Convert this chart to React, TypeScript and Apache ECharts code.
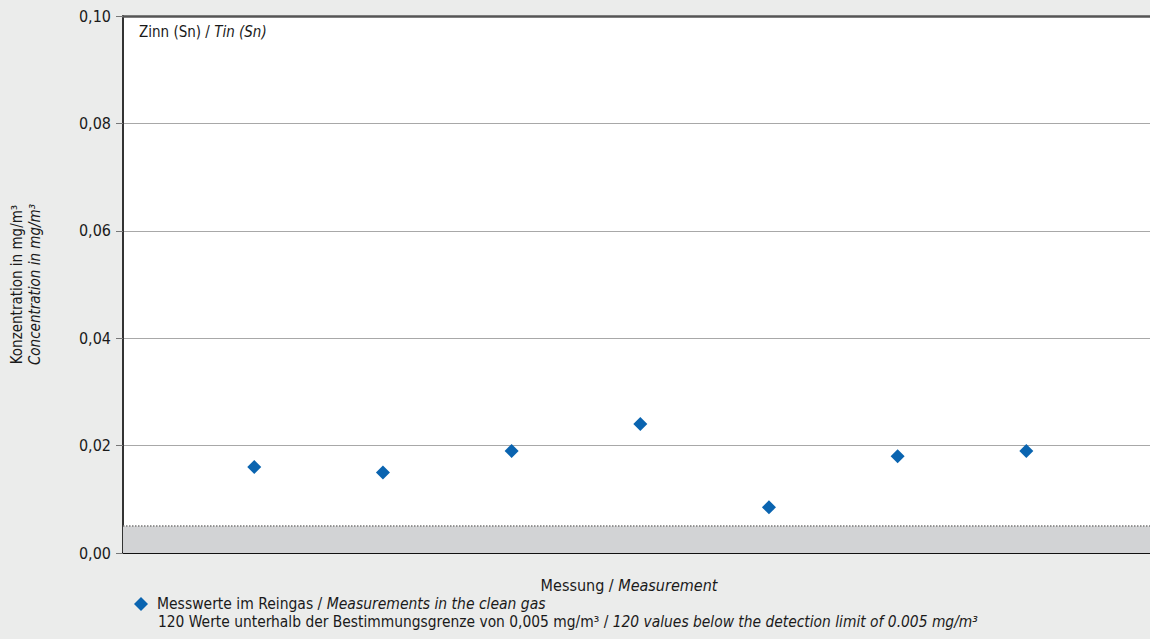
import React, { useEffect, useRef } from "react";
import * as echarts from "echarts";

const measurementIndex = [1, 2, 3, 4, 5, 6, 7];
const concentration = [0.016, 0.015, 0.019, 0.024, 0.0085, 0.018, 0.019];
const yTicks = [0, 0.02, 0.04, 0.06, 0.08, 0.1];
const detectionLimit = 0.005;

const FONT = "'Liberation Sans Narrow', 'DejaVu Sans Condensed', 'Roboto', sans-serif";

export default function App() {
  const ref = useRef<HTMLDivElement>(null);
  useEffect(() => {
    const chart = echarts.init(ref.current!, null, { renderer: "svg" });
    const data = measurementIndex.map((x, i) => [x, concentration[i]]);
    chart.setOption({
      animation: false,
      backgroundColor: "#ebeceb",
      textStyle: { fontFamily: FONT, color: "#1a1a1a" },
      grid: {
        left: 123,
        top: 16,
        width: 1032,
        height: 537,
        show: true,
        backgroundColor: "#ffffff",
        borderWidth: 0,
        containLabel: false,
        outerBoundsMode: "none",
      },
      xAxis: [
        {
          type: "value",
          min: -0.02,
          max: 8,
          position: "bottom",
          name: "Messung / {i|Measurement}",
          nameLocation: "middle",
          nameGap: 24,
          nameTextStyle: {
            fontFamily: FONT,
            fontSize: 16,
            color: "#1a1a1a",
            padding: [0, 20, 0, 0],
            rich: { i: { fontStyle: "italic", fontFamily: FONT, fontSize: 16, color: "#1a1a1a" } },
          },
          axisLine: { show: true, onZero: false, lineStyle: { color: "#111", width: 2 } },
          axisTick: { show: false },
          axisLabel: { show: false },
          splitLine: { show: false },
        },
        {
          type: "value",
          min: -0.02,
          max: 8,
          position: "top",
          axisLine: { show: true, onZero: false, lineStyle: { color: "#555", width: 2.5 } },
          axisTick: { show: false },
          axisLabel: { show: false },
          splitLine: { show: false },
        },
      ],
      yAxis: {
        type: "value",
        min: yTicks[0],
        max: yTicks[yTicks.length - 1],
        interval: 0.02,
        name: "Konzentration in mg/m³\n{i|Concentration in mg/m³}",
        nameLocation: "middle",
        nameRotate: 90,
        nameGap: 79,
        nameTextStyle: {
          fontFamily: FONT,
          fontSize: 15,
          lineHeight: 18,
          color: "#1a1a1a",
          align: "center",
          rich: { i: { fontStyle: "italic", fontFamily: FONT, fontSize: 15, lineHeight: 18, color: "#1a1a1a" } },
        },
        axisLine: { show: true, onZero: false, lineStyle: { color: "#333", width: 2 } },
        axisTick: { show: true, length: 7, lineStyle: { color: "#777", width: 1 } },
        axisLabel: {
          fontFamily: FONT,
          fontSize: 16,
          color: "#1a1a1a",
          margin: 12,
          formatter: (v: number) => v.toFixed(2).replace(".", ","),
        },
        splitLine: { show: true, lineStyle: { color: "#a8a8a8", width: 1 } },
      },
      legend: {
        left: 134,
        top: 596,
        itemWidth: 14,
        itemHeight: 14,
        itemGap: 6,
        padding: 0,
        data: [{ name: "Messwerte", icon: "diamond" }],
        formatter: () => "Messwerte im Reingas / {i|Measurements in the clean gas}",
        textStyle: {
          fontFamily: FONT,
          fontSize: 15.5,
          color: "#1a1a1a",
          padding: [0, 0, 0, 4],
          rich: { i: { fontStyle: "italic", fontFamily: FONT, fontSize: 15.5, color: "#1a1a1a" } },
        },
      },
      graphic: [
        {
          type: "text",
          left: 139,
          top: 24,
          style: {
            text: "Zinn (Sn) / {i|Tin (Sn)}",
            font: `15px ${FONT}`,
            fill: "#1a1a1a",
            rich: { i: { fontStyle: "italic", fontFamily: FONT, fontSize: 15, fill: "#1a1a1a" } },
          },
        },
        {
          type: "text",
          left: 158,
          top: 614,
          style: {
            text: "120 Werte unterhalb der Bestimmungsgrenze von 0,005 mg/m³ / {i|120 values below the detection limit of 0.005 mg/m³}",
            font: `15.4px ${FONT}`,
            fill: "#1a1a1a",
            rich: { i: { fontStyle: "italic", fontFamily: FONT, fontSize: 15.4, fill: "#1a1a1a" } },
          },
        },
      ],
      series: [
        {
          name: "Messwerte",
          type: "scatter",
          symbol: "diamond",
          symbolSize: 14,
          itemStyle: { color: "#0a64b0", opacity: 1 },
          data,
          z: 5,
          markArea: {
            silent: true,
            itemStyle: { color: "#d2d3d5" },
            data: [[{ yAxis: 0 }, { yAxis: detectionLimit }]],
          },
          markLine: {
            silent: true,
            symbol: "none",
            precision: 4,
            label: { show: false },
            lineStyle: { color: "#777", type: "dotted", width: 1.5 },
            data: [[{ coord: [-0.02, detectionLimit] }, { coord: [8, detectionLimit] }]],
          },
        },
      ],
    });
    return () => chart.dispose();
  }, []);
  return (
    <div
      ref={ref}
      style={{ position: "fixed", left: 0, top: 0, width: 1150, height: 639 }}
    />
  );
}
